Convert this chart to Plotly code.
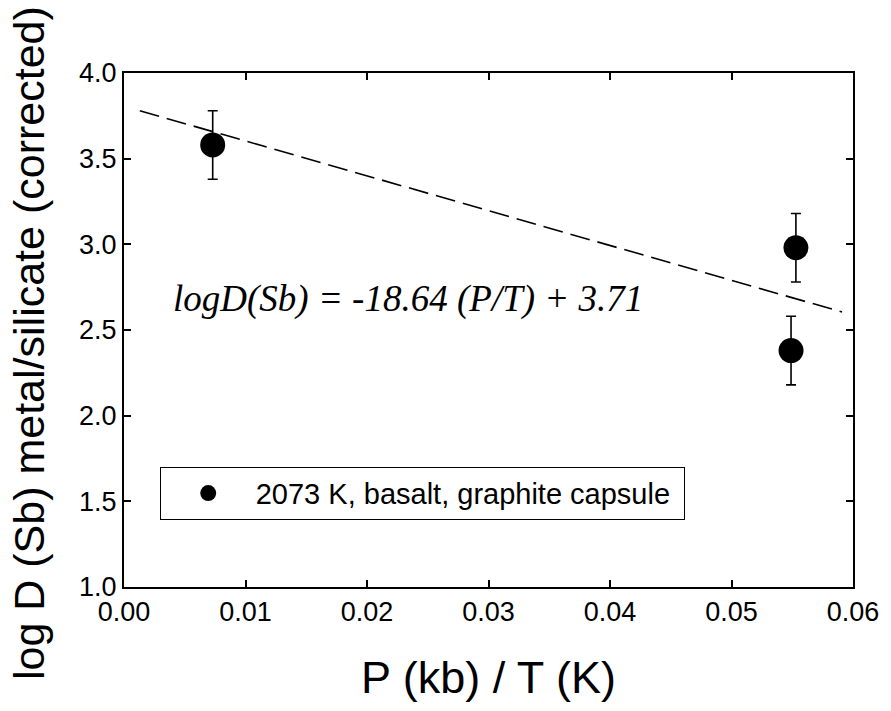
import plotly.graph_objects as go

# Measured partition data
p_over_t = [0.0073, 0.0553, 0.0549]
log_d = [3.58, 2.98, 2.38]
log_d_err = [0.20, 0.20, 0.20]

# Regression line end points
fit_x = [0.0013, 0.0591]
fit_y = [3.78, 2.605]

x_ticks = [0.00, 0.01, 0.02, 0.03, 0.04, 0.05, 0.06]
y_ticks = [1.0, 1.5, 2.0, 2.5, 3.0, 3.5, 4.0]

series_name = "2073 K, basalt, graphite capsule"
equation = "logD(Sb) = -18.64 (P/T) + 3.71"
x_title = "P (kb) / T (K)"
y_title = "log D (Sb) metal/silicate (corrected)"

sans = "Liberation Sans, Arial, sans-serif"
serif = "Liberation Serif, Times New Roman, serif"

fig = go.Figure()

fig.add_trace(go.Scatter(
    x=fit_x, y=fit_y, mode="lines",
    line=dict(color="black", width=1.6, dash="20px,8px"),
    showlegend=False, hoverinfo="skip",
))

fig.add_trace(go.Scatter(
    x=p_over_t, y=log_d, mode="markers", name=series_name,
    marker=dict(color="black", size=25, line=dict(width=0)),
    error_y=dict(type="data", array=log_d_err, visible=True,
                 color="black", thickness=1.6, width=5),
))

fig.add_annotation(
    x=0.0234, y=2.68, xref="x", yref="y", text=equation, showarrow=False,
    font=dict(family=serif, size=37, color="black", style="italic"),
)

# vertical axis title, placed in paper space
fig.add_annotation(
    x=-0.13, y=0.475, xref="paper", yref="paper", text=y_title,
    textangle=-90, showarrow=False, xanchor="center", yanchor="middle",
    font=dict(family=sans, size=43, color="black"),
)

axis_common = dict(
    showline=True, linecolor="black", linewidth=2, mirror="ticks",
    ticks="inside", ticklen=7, tickwidth=1.6, tickcolor="black",
    showgrid=False, zeroline=False,
    tickfont=dict(family=sans, size=27, color="black"),
)

fig.update_xaxes(
    range=[0, 0.06], tickvals=x_ticks, tickformat=".2f",
    title=dict(text=x_title, font=dict(family=sans, size=45, color="black"), standoff=35),
    **axis_common,
)
fig.update_yaxes(
    range=[1.0, 4.0], tickvals=y_ticks, tickformat=".1f",
    **axis_common,
)

fig.update_layout(
    width=891, height=711,
    margin=dict(l=124, r=32, t=73, b=124),
    paper_bgcolor="white", plot_bgcolor="white",
    showlegend=True,
    legend=dict(
        x=0.049, y=0.234, xanchor="left", yanchor="top",
        orientation="h", itemwidth=85, entrywidth=423,
        bordercolor="black", borderwidth=1, bgcolor="white",
        font=dict(family=sans, size=29, color="black"),
    ),
)

fig.write_html("out.html")
